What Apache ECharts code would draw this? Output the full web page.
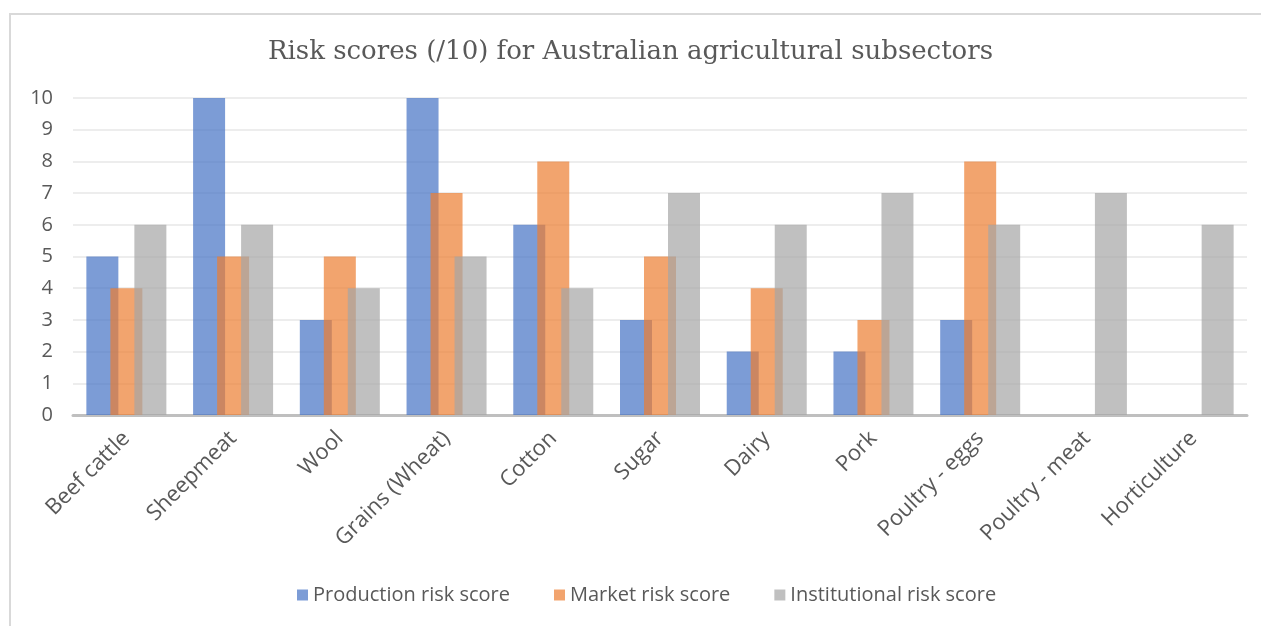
<!DOCTYPE html>
<html>
<head>
<meta charset="utf-8">
<script src="https://cdn.jsdelivr.net/npm/echarts@6/dist/echarts.min.js"></script>
<style>
  html, body { margin: 0; padding: 0; background: #fff; }
  #main { width: 1261px; height: 626px; }
</style>
</head>
<body>
<div id="main"></div>
<script>
const categories = ['Beef cattle', 'Sheepmeat', 'Wool', 'Grains (Wheat)', 'Cotton', 'Sugar',
    'Dairy', 'Pork', 'Poultry - eggs', 'Poultry - meat', 'Horticulture'];
const production = [5, 10, 3, 10, 6, 3, 2, 2, 3, 0, 0];
const market = [4, 5, 5, 7, 8, 5, 4, 3, 8, 0, 0];
const institutional = [6, 6, 4, 5, 4, 7, 6, 7, 6, 7, 6];
const yTicks = [0, 10];

let dom = document.getElementById('main');
let myChart = echarts.init(dom, null, {renderer: 'canvas'});

function barSeries(name, data, color) {
    return {
        name: name,
        type: 'bar',
        data: data,
        barWidth: 32,
        barGap: '-25%',
        itemStyle: {color: color, opacity: 0.7},
        emphasis: {disabled: true}
    };
}

const option = {
    animation: false,
    backgroundColor: '#fff',
    graphic: [{
        type: 'rect',
        shape: {x: 10, y: 14, width: 1400, height: 800},
        style: {fill: 'none', stroke: '#D9D9D9', lineWidth: 2},
        silent: true
    }],
    title: {
        text: 'Risk scores (/10) for Australian agricultural subsectors',
        left: 'center',
        top: 34,
        textStyle: {
            fontFamily: 'DejaVu Serif',
            fontWeight: 'normal',
            fontSize: 26,
            color: '#595959'
        }
    },
    legend: {
        bottom: 16,
        left: 292,
        itemWidth: 11,
        itemHeight: 11,
        itemGap: 44,
        icon: 'rect',
        textStyle: {fontFamily: 'Open Sans', fontSize: 20, color: '#595959'},
        data: ['Production risk score', 'Market risk score', 'Institutional risk score']
    },
    grid: {left: 73, right: 14, top: 98, bottom: 211, containLabel: false},
    xAxis: {
        type: 'category',
        data: categories,
        axisTick: {show: false},
        axisLine: {lineStyle: {color: '#BFBFBF', width: 3}},
        axisLabel: {
            rotate: 45,
            interval: 0,
            margin: 20,
            fontFamily: 'Open Sans',
            fontSize: 22,
            color: '#595959'
        }
    },
    yAxis: {
        type: 'value',
        min: yTicks[0],
        max: yTicks[1],
        interval: 1,
        axisLine: {show: false},
        axisTick: {show: false},
        splitLine: {lineStyle: {color: '#EDEDED', width: 2}},
        axisLabel: {
            margin: 20,
            fontFamily: 'Open Sans',
            fontSize: 20,
            color: '#595959'
        }
    },
    series: [
        barSeries('Production risk score', production, '#4472C4'),
        barSeries('Market risk score', market, '#ED7D31'),
        barSeries('Institutional risk score', institutional, '#A5A5A5')
    ]
};
myChart.setOption(option, true);
</script>
</body>
</html>
